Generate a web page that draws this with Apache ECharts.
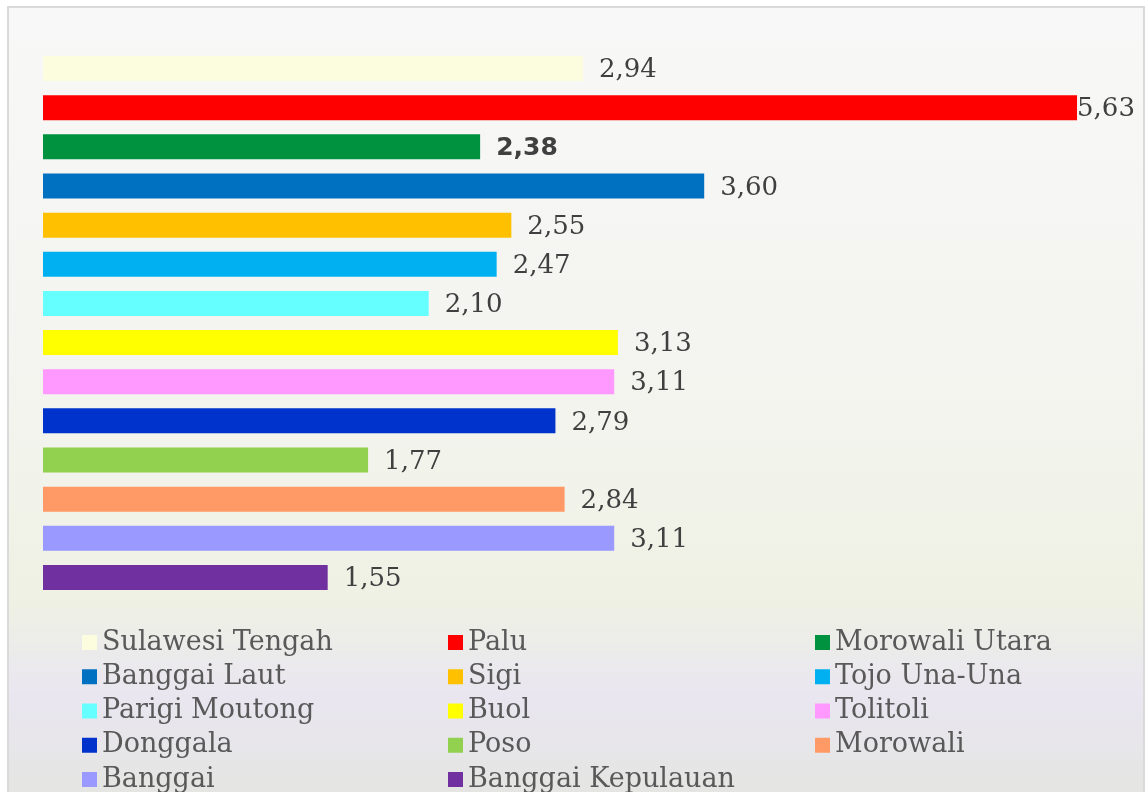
<!DOCTYPE html>
<html>
<head>
<meta charset="utf-8">
<style>
  html, body { margin: 0; padding: 0; background: #ffffff; }
  #chart { width: 1148px; height: 792px; }
</style>
<script src="https://cdn.jsdelivr.net/npm/echarts@6/dist/echarts.min.js"></script>
</head>
<body>
<div id="chart"></div>
<script>
// Regions, top to bottom
const regions = [
  'Sulawesi Tengah', 'Palu', 'Morowali Utara', 'Banggai Laut', 'Sigi',
  'Tojo Una-Una', 'Parigi Moutong', 'Buol', 'Tolitoli', 'Donggala',
  'Poso', 'Morowali', 'Banggai', 'Banggai Kepulauan'
];
const values = [2.94, 5.63, 2.38, 3.60, 2.55, 2.47, 2.10, 3.13, 3.11, 2.79, 1.77, 2.84, 3.11, 1.55];
const colors = [
  '#fcfcde', '#ff0000', '#00923f', '#0070c0', '#ffc000',
  '#00b0f0', '#66ffff', '#ffff00', '#ff99ff', '#0033cc',
  '#92d050', '#ff9966', '#9999ff', '#7030a0'
];
// Legend columns (indices into regions)
const legendCols = [
  [0, 3, 6, 9, 12],
  [1, 4, 7, 10, 13],
  [2, 5, 8, 11]
];
const legendLeft = [82, 448, 815];
const highlighted = 'Morowali Utara';

const fmt = v => Number(v).toFixed(2).replace('.', ',');

const series = regions.map((name, i) => {
  const data = regions.map((_, j) => (j === i ? values[i] : '-'));
  const bold = name === highlighted;
  return {
    name,
    type: 'bar',
    stack: 'one',
    barWidth: 25,
    itemStyle: { color: colors[i] },
    data,
    label: {
      show: true,
      position: 'right',
      distance: name === 'Palu' ? 0 : 16,
      offset: [0, 2],
      formatter: p => fmt(p.value),
      color: '#404040',
      fontFamily: bold ? 'DejaVu Sans' : 'DejaVu Serif',
      fontWeight: bold ? 'bold' : 'normal',
      fontSize: bold ? 25 : 26
    }
  };
});

const legends = legendCols.map((col, k) => ({
  orient: 'vertical',
  left: legendLeft[k],
  top: 625.5,
  height: 300,
  padding: 0,
  itemWidth: 15,
  itemHeight: 15,
  itemGap: 0.25,
  icon: 'rect',
  selectedMode: false,
  data: col.map(i => regions[i]),
  textStyle: {
    fontFamily: 'DejaVu Serif',
    fontSize: 27,
    color: '#595959',
    lineHeight: 34
  }
}));

const chart = echarts.init(document.getElementById('chart'), null, { renderer: 'canvas' });
chart.setOption({
  animation: false,
  backgroundColor: '#ffffff',
  graphic: [{
    type: 'rect',
    z: -10,
    silent: true,
    shape: { x: 8, y: 7, width: 1136, height: 800 },
    style: {
      fill: {
        type: 'linear', x: 0, y: 0, x2: 0, y2: 1,
        colorStops: [
          { offset: 0, color: '#f8f8f8' },
          { offset: 0.5, color: '#f3f4ee' },
          { offset: 0.74, color: '#eff1e4' },
          { offset: 0.86, color: '#e9e6f0' },
          { offset: 1, color: '#e4e5e0' }
        ]
      },
      stroke: '#d9d9d9',
      lineWidth: 2
    }
  }],
  grid: { left: 43, right: 3, top: 49, height: 548 },
  xAxis: { type: 'value', min: 0, max: 6, show: false },
  yAxis: { type: 'category', data: regions, inverse: true, show: false },
  legend: legends,
  series
});
</script>
</body>
</html>
